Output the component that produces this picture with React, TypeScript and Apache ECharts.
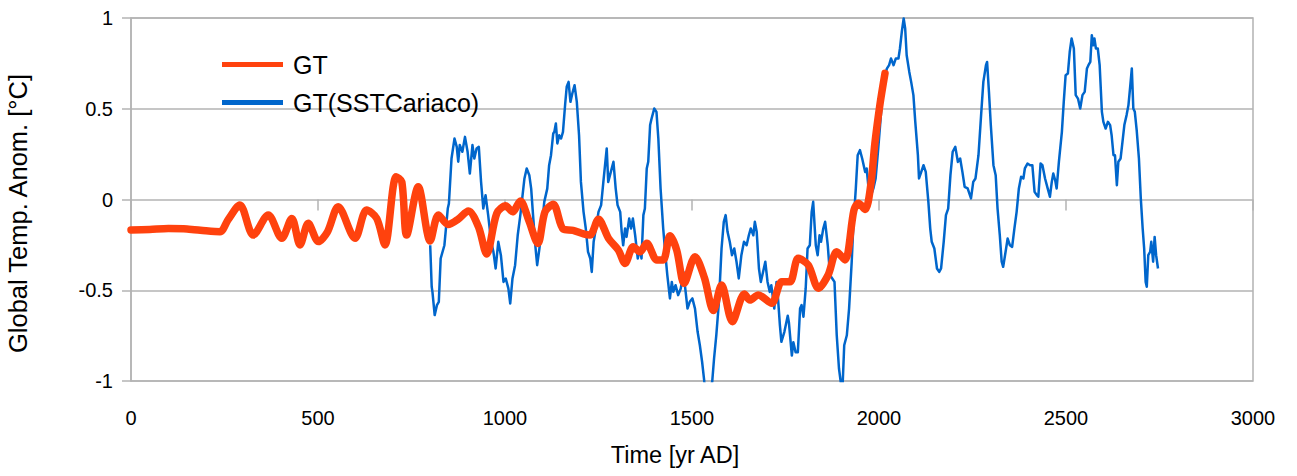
import React, { useEffect, useRef } from "react";
import * as echarts from "echarts";

const xTicks = [0, 500, 1000, 1500, 2000, 2500, 3000];
const yTicks = [-1, -0.5, 0, 0.5, 1];

const gtYears = [0, 50, 100, 150, 200, 238, 260, 291, 327, 367, 403, 430, 452, 474, 501, 525, 554, 599, 630, 657, 679, 709, 724, 737, 768, 800, 822, 848, 875, 902, 929, 951, 978, 1002, 1020, 1041, 1063, 1088, 1107, 1129, 1156, 1182, 1210, 1227, 1250, 1277, 1303, 1321, 1343, 1361, 1379, 1406, 1423, 1441, 1459, 1479, 1508, 1533, 1557, 1579, 1608, 1640, 1655, 1677, 1713, 1740, 1762, 1784, 1811, 1838, 1864, 1887, 1909, 1933, 1945, 1963, 1978, 1989, 2003, 2016];
const gtValues = [-0.168, -0.165, -0.16, -0.162, -0.172, -0.177, -0.11, -0.03, -0.196, -0.085, -0.214, -0.104, -0.25, -0.131, -0.232, -0.18, -0.04, -0.214, -0.058, -0.104, -0.25, 0.126, 0.098, -0.196, 0.07, -0.228, -0.086, -0.138, -0.108, -0.063, -0.15, -0.3, -0.076, -0.035, -0.068, -0.008, -0.112, -0.242, -0.067, -0.026, -0.164, -0.17, -0.19, -0.196, -0.109, -0.215, -0.278, -0.352, -0.26, -0.288, -0.241, -0.333, -0.333, -0.2, -0.278, -0.462, -0.315, -0.43, -0.612, -0.471, -0.673, -0.52, -0.554, -0.526, -0.572, -0.453, -0.453, -0.324, -0.361, -0.489, -0.416, -0.288, -0.333, -0.058, -0.021, -0.055, 0.08, 0.31, 0.53, 0.695];

const sstYears = [800, 804, 806, 812, 818, 823, 828, 838, 847, 850, 857, 865, 871, 875, 879, 886, 893, 900, 906, 913, 918, 924, 930, 936, 942, 948, 955, 963, 969, 975, 982, 989, 996, 1002, 1009, 1014, 1020, 1027, 1034, 1041, 1047, 1052, 1058, 1065, 1070, 1075, 1081, 1086, 1092, 1098, 1105, 1113, 1118, 1123, 1129, 1132, 1136, 1140, 1145, 1150, 1155, 1161, 1165, 1170, 1175, 1180, 1186, 1192, 1198, 1203, 1210, 1216, 1222, 1228, 1232, 1237, 1243, 1250, 1257, 1263, 1272, 1276, 1283, 1290, 1296, 1301, 1308, 1312, 1316, 1321, 1325, 1332, 1337, 1342, 1348, 1355, 1361, 1365, 1370, 1374, 1379, 1383, 1388, 1392, 1399, 1405, 1410, 1416, 1423, 1429, 1434, 1441, 1446, 1450, 1456, 1463, 1470, 1477, 1483, 1488, 1494, 1501, 1508, 1515, 1521, 1527, 1533, 1538, 1554, 1559, 1565, 1572, 1579, 1585, 1590, 1595, 1601, 1607, 1613, 1619, 1625, 1632, 1639, 1646, 1652, 1657, 1664, 1668, 1673, 1679, 1684, 1690, 1696, 1702, 1708, 1712, 1720, 1726, 1730, 1735, 1739, 1747, 1756, 1759, 1767, 1771, 1777, 1783, 1789, 1793, 1798, 1804, 1809, 1815, 1820, 1824, 1831, 1836, 1841, 1845, 1851, 1856, 1863, 1869, 1875, 1881, 1887, 1893, 1898, 1902, 1907, 1914, 1920, 1927, 1931, 1938, 1943, 1949, 1955, 1963, 1967, 1973, 1979, 1985, 1991, 1998, 2005, 2012, 2021, 2027, 2032, 2039, 2045, 2052, 2056, 2061, 2066, 2070, 2074, 2081, 2086, 2092, 2097, 2104, 2107, 2113, 2119, 2125, 2132, 2137, 2141, 2148, 2155, 2161, 2166, 2173, 2179, 2185, 2191, 2197, 2204, 2211, 2217, 2223, 2229, 2237, 2246, 2252, 2258, 2266, 2273, 2279, 2286, 2289, 2294, 2299, 2306, 2312, 2317, 2323, 2328, 2332, 2337, 2344, 2350, 2356, 2362, 2368, 2374, 2380, 2386, 2390, 2397, 2404, 2410, 2416, 2422, 2426, 2432, 2437, 2444, 2451, 2457, 2462, 2466, 2471, 2475, 2481, 2489, 2494, 2499, 2505, 2510, 2515, 2521, 2526, 2532, 2538, 2544, 2550, 2556, 2560, 2565, 2569, 2573, 2576, 2580, 2585, 2590, 2596, 2600, 2606, 2612, 2618, 2622, 2627, 2631, 2636, 2640, 2646, 2651, 2656, 2662, 2667, 2672, 2676, 2680, 2684, 2689, 2695, 2700, 2705, 2709, 2713, 2716, 2720, 2725, 2728, 2733, 2737, 2741, 2746];
const sstValues = [-0.252, -0.481, -0.509, -0.637, -0.582, -0.564, -0.325, -0.252, -0.05, -0.022, 0.226, 0.336, 0.29, 0.208, 0.3, 0.263, 0.345, 0.263, 0.143, 0.3, 0.226, 0.281, 0.29, 0.097, -0.05, 0.024, -0.086, -0.233, -0.288, -0.38, -0.233, -0.307, -0.454, -0.435, -0.49, -0.573, -0.435, -0.362, -0.197, -0.086, 0.024, 0.116, 0.171, 0.134, 0.06, -0.086, -0.252, -0.362, -0.27, -0.16, -0.013, 0.06, 0.189, 0.244, 0.364, 0.373, 0.419, 0.309, 0.354, 0.336, 0.373, 0.529, 0.621, 0.648, 0.538, 0.584, 0.63, 0.538, 0.354, 0.097, -0.068, -0.16, -0.288, -0.325, -0.399, -0.233, -0.16, -0.068, -0.031, 0.097, 0.281, 0.097, 0.152, 0.208, 0.06, -0.031, -0.068, -0.178, -0.252, -0.16, -0.206, -0.105, -0.16, -0.105, -0.197, -0.325, -0.27, -0.325, -0.086, -0.05, 0.171, 0.208, 0.41, 0.446, 0.501, 0.483, 0.336, 0.06, -0.16, -0.307, -0.417, -0.545, -0.454, -0.509, -0.472, -0.527, -0.49, -0.399, -0.509, -0.601, -0.564, -0.545, -0.601, -0.729, -0.803, -0.894, -1.005, -1.08, -1.005, -0.876, -0.747, -0.564, -0.27, -0.123, -0.086, -0.178, -0.233, -0.307, -0.27, -0.343, -0.435, -0.307, -0.233, -0.252, -0.197, -0.16, -0.197, -0.123, -0.178, -0.38, -0.454, -0.399, -0.343, -0.454, -0.509, -0.472, -0.601, -0.454, -0.545, -0.692, -0.784, -0.729, -0.64, -0.676, -0.86, -0.786, -0.841, -0.841, -0.6, -0.582, -0.646, -0.49, -0.27, -0.252, -0.068, -0.013, -0.252, -0.307, -0.197, -0.233, -0.16, -0.123, -0.252, -0.417, -0.435, -0.454, -0.748, -0.931, -1.01, -1.06, -0.803, -0.748, -0.601, -0.344, -0.16, 0.061, 0.244, 0.272, 0.226, 0.152, 0.171, 0.042, 0.024, 0.061, 0.116, 0.281, 0.464, 0.648, 0.721, 0.74, 0.777, 0.74, 0.777, 0.777, 0.832, 0.924, 0.997, 0.942, 0.795, 0.703, 0.648, 0.575, 0.428, 0.244, 0.116, 0.152, 0.189, 0.152, -0.013, -0.16, -0.233, -0.27, -0.38, -0.399, -0.38, -0.233, -0.086, -0.05, 0.134, 0.263, 0.29, 0.207, 0.226, 0.152, 0.07, 0.061, 0.006, 0.097, 0.116, 0.244, 0.465, 0.648, 0.74, 0.758, 0.593, 0.409, 0.189, 0.134, -0.05, -0.197, -0.343, -0.371, -0.307, -0.215, -0.252, -0.261, -0.16, -0.068, 0.061, 0.125, 0.116, 0.171, 0.198, 0.189, 0.189, 0.042, 0.024, 0.015, 0.198, 0.189, 0.116, 0.061, 0.015, 0.097, 0.143, 0.107, 0.061, 0.207, 0.373, 0.538, 0.685, 0.694, 0.814, 0.887, 0.832, 0.575, 0.556, 0.501, 0.575, 0.593, 0.722, 0.74, 0.758, 0.905, 0.85, 0.887, 0.832, 0.832, 0.74, 0.483, 0.428, 0.391, 0.428, 0.41, 0.354, 0.244, 0.244, 0.079, 0.208, 0.226, 0.318, 0.41, 0.465, 0.52, 0.63, 0.722, 0.501, 0.483, 0.382, 0.226, 0.006, -0.16, -0.27, -0.454, -0.481, -0.307, -0.288, -0.233, -0.343, -0.206, -0.307, -0.38];

const seriesNames = ["GT", "GT(SSTCariaco)"];
const FONT = "Liberation Sans, Arial, sans-serif";
const GRID_COLOR = "#b3b3b3";
const ORANGE = "#ff420e";
const BLUE = "#0066cc";

export default function App() {
  const ref = useRef<HTMLDivElement>(null);
  useEffect(() => {
    if (!ref.current) return;
    const chart = echarts.init(ref.current, null, { renderer: "svg" });
    const gtData = gtYears.map((y, i) => [y, gtValues[i]]);
    const sstData = sstYears.map((y, i) => [y, sstValues[i]]);
    chart.setOption({
      animation: false,
      textStyle: { fontFamily: FONT },
      grid: {
        left: 131,
        right: 44,
        top: 18,
        bottom: 95,
        outerBoundsMode: "none",
        containLabel: false,
        show: true,
        borderColor: GRID_COLOR,
        borderWidth: 1.5,
      },
      legend: {
        orient: "vertical",
        left: 222,
        top: 52,
        padding: 0,
        itemWidth: 61,
        itemHeight: 5,
        itemGap: 13,
        icon: "rect",
        textStyle: { fontSize: 25, color: "#000", fontFamily: FONT, padding: [0, 0, 0, 5] },
        data: [
          { name: seriesNames[0], itemStyle: { color: ORANGE } },
          { name: seriesNames[1], itemStyle: { color: BLUE } },
        ],
      },
      xAxis: [
        {
          type: "value",
          min: xTicks[0],
          max: xTicks[xTicks.length - 1],
          interval: 500,
          position: "bottom",
          name: "Time [yr AD]",
          nameLocation: "middle",
          nameGap: 62,
          nameTextStyle: { fontSize: 23.5, color: "#000", fontFamily: FONT, padding: [0, 34, 0, 0] },
          axisLine: { show: false },
          axisTick: { show: false },
          splitLine: { show: false },
          axisLabel: { fontSize: 20, color: "#000", margin: 27, fontFamily: FONT, formatter: (v: number) => String(v) },
        },
        {
          type: "value",
          min: xTicks[0],
          max: xTicks[xTicks.length - 1],
          interval: 500,
          position: "top",
          offset: -181.5,
          axisLine: { show: false },
          axisTick: { show: true, inside: true, length: 11, lineStyle: { color: GRID_COLOR, width: 1.5 } },
          splitLine: { show: false },
          axisLabel: { show: false },
        },
      ],
      yAxis: {
        type: "value",
        min: yTicks[0],
        max: yTicks[yTicks.length - 1],
        interval: 0.5,
        name: "Global Temp. Anom. [°C]",
        nameLocation: "middle",
        nameGap: 100,
        nameTextStyle: { fontSize: 25.5, color: "#000", fontFamily: FONT, padding: [0, 28, 0, 0] },
        axisLine: { show: true, lineStyle: { color: GRID_COLOR, width: 1.5 } },
        axisTick: { show: true, length: 9, lineStyle: { color: GRID_COLOR, width: 1.5 } },
        splitLine: { show: true, lineStyle: { color: GRID_COLOR, width: 1.5 } },
        axisLabel: { fontSize: 20, color: "#000", margin: 18, fontFamily: FONT, formatter: (v: number) => String(v) },
      },
      series: [
        {
          name: seriesNames[0],
          type: "line",
          data: gtData,
          showSymbol: false,
          symbol: "none",
          smooth: 0.3,
          color: ORANGE,
          lineStyle: { width: 7.5, color: ORANGE, cap: "round", join: "round" },
          z: 3,
        },
        {
          name: seriesNames[1],
          type: "line",
          data: sstData,
          showSymbol: false,
          symbol: "none",
          color: BLUE,
          lineStyle: { width: 2.5, color: BLUE, join: "round" },
          z: 2,
        },
      ],
    });
    return () => chart.dispose();
  }, []);
  return (
    <div
      ref={ref}
      style={{ position: "fixed", left: 0, top: 0, width: 1297, height: 476, background: "#fff" }}
    />
  );
}
